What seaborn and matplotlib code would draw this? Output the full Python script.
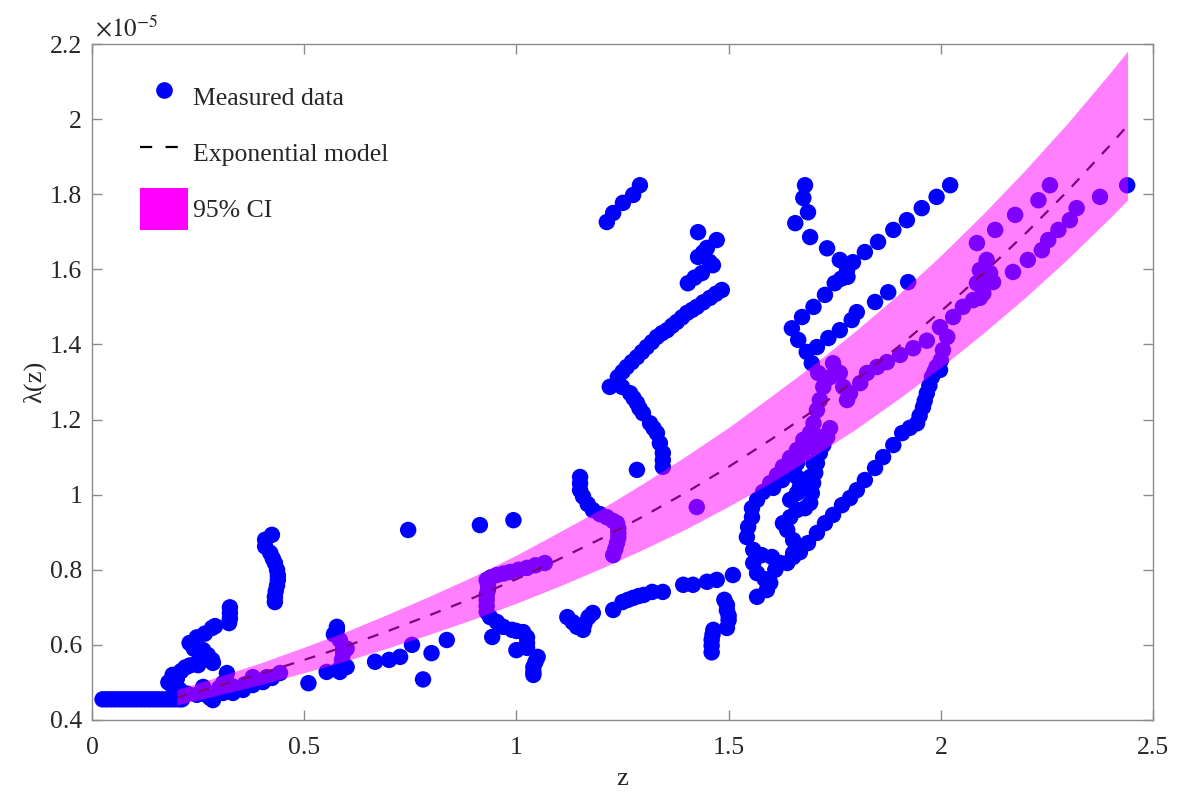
import numpy as np
import pandas as pd
import matplotlib
matplotlib.use("Agg")
import matplotlib.pyplot as plt
from matplotlib.lines import Line2D
from matplotlib.patches import Patch
from matplotlib.ticker import FuncFormatter
import seaborn as sns

# Measured lambda(z) values (units of 1e-5), grouped by trace as (z, lambda)
trace_flat = [
    (0.025, 0.455), (0.035, 0.455), (0.045, 0.455), (0.055, 0.455), (0.065, 0.455),
    (0.075, 0.455), (0.085, 0.455), (0.095, 0.455), (0.105, 0.455), (0.115, 0.455),
    (0.125, 0.455), (0.135, 0.455), (0.145, 0.455), (0.155, 0.455), (0.165, 0.455),
    (0.175, 0.455), (0.185, 0.455), (0.195, 0.455), (0.205, 0.455), (0.212, 0.455),
]
trace_low_left = [
    (0.18, 0.50), (0.19, 0.52), (0.20, 0.51), (0.21, 0.53), (0.22, 0.54), (0.23, 0.545),
    (0.245, 0.55), (0.25, 0.546), (0.19, 0.49), (0.20, 0.48), (0.207, 0.48), (0.225, 0.47),
    (0.247, 0.467), (0.262, 0.488), (0.278, 0.459), (0.285, 0.453), (0.262, 0.47),
    (0.23, 0.605), (0.247, 0.62), (0.266, 0.63), (0.283, 0.645), (0.29, 0.65),
    (0.24, 0.59), (0.262, 0.586), (0.273, 0.573), (0.283, 0.56), (0.285, 0.552),
    (0.325, 0.70), (0.325, 0.685), (0.325, 0.67), (0.323, 0.658),
    (0.309, 0.498), (0.318, 0.525), (0.309, 0.472), (0.332, 0.472), (0.356, 0.48),
    (0.379, 0.493), (0.403, 0.501), (0.424, 0.512), (0.443, 0.525), (0.379, 0.514),
    (0.412, 0.514), (0.30, 0.485), (0.33, 0.49), (0.36, 0.495),
]
trace_arc_042 = [
    (0.424, 0.893), (0.408, 0.88), (0.408, 0.862), (0.42, 0.845), (0.426, 0.83),
    (0.431, 0.818), (0.436, 0.80), (0.438, 0.785), (0.438, 0.773), (0.436, 0.758),
    (0.433, 0.743), (0.431, 0.728), (0.431, 0.714),
]
trace_mid = [
    (0.51, 0.498), (0.553, 0.528), (0.584, 0.528), (0.60, 0.541), (0.577, 0.64),
    (0.57, 0.628), (0.577, 0.648), (0.584, 0.613), (0.592, 0.594), (0.60, 0.59),
    (0.592, 0.578), (0.589, 0.56), (0.58, 0.533),
    (0.667, 0.555), (0.70, 0.56), (0.726, 0.568), (0.754, 0.60), (0.80, 0.578),
    (0.836, 0.613), (0.78, 0.508), (0.745, 0.906), (0.914, 0.919), (0.993, 0.932),
]
trace_093 = [
    (0.93, 0.773), (0.933, 0.76), (0.933, 0.746), (0.93, 0.733), (0.93, 0.72),
    (0.93, 0.704), (0.93, 0.688), (0.938, 0.674), (0.954, 0.661), (0.969, 0.648),
    (0.99, 0.64), (1.0, 0.637), (1.016, 0.634), (1.025, 0.62), (1.025, 0.605),
    (1.025, 0.592), (1.0, 0.586), (0.943, 0.621), (1.05, 0.568), (1.045, 0.555),
    (1.04, 0.541), (1.04, 0.528), (1.04, 0.52),
    (0.94, 0.78), (0.954, 0.786), (0.97, 0.79), (0.985, 0.794), (1.005, 0.80),
    (1.025, 0.805), (1.045, 0.812), (1.067, 0.818),
]
trace_low_mid = [
    (1.12, 0.674), (1.133, 0.66), (1.143, 0.648), (1.157, 0.64), (1.17, 0.674),
    (1.18, 0.685), (1.16, 0.655), (1.228, 0.693), (1.25, 0.714), (1.263, 0.72),
    (1.275, 0.725), (1.288, 0.73), (1.30, 0.733), (1.32, 0.741), (1.345, 0.741),
    (1.393, 0.76), (1.416, 0.76), (1.449, 0.768), (1.472, 0.773), (1.51, 0.786),
    (1.49, 0.72), (1.496, 0.706), (1.496, 0.692), (1.50, 0.678), (1.50, 0.666),
    (1.496, 0.645), (1.464, 0.64), (1.462, 0.627), (1.46, 0.613), (1.46, 0.598),
    (1.46, 0.58),
]
trace_115 = [
    (1.15, 1.047), (1.15, 1.03), (1.15, 1.012), (1.157, 0.995), (1.168, 0.975),
    (1.18, 0.959), (1.197, 0.948), (1.213, 0.94), (1.228, 0.93), (1.237, 0.924),
    (1.24, 0.91), (1.24, 0.898), (1.24, 0.885), (1.237, 0.871), (1.233, 0.855),
    (1.228, 0.839), (1.284, 1.066), (1.425, 0.967),
]
trace_zigzag = [
    (1.213, 1.726), (1.228, 1.75), (1.251, 1.777), (1.275, 1.798), (1.291, 1.824),
    (1.345, 1.074), (1.345, 1.092), (1.345, 1.111), (1.338, 1.137), (1.331, 1.164),
    (1.323, 1.177), (1.315, 1.19), (1.298, 1.217), (1.29, 1.23), (1.284, 1.244),
    (1.276, 1.257), (1.268, 1.27), (1.249, 1.287), (1.22, 1.287), (1.239, 1.313),
    (1.25, 1.327), (1.26, 1.34), (1.272, 1.353), (1.284, 1.366), (1.296, 1.38),
    (1.307, 1.393), (1.319, 1.406), (1.331, 1.42), (1.343, 1.43), (1.355, 1.438),
    (1.367, 1.45), (1.378, 1.46), (1.39, 1.472), (1.402, 1.484), (1.414, 1.492),
    (1.425, 1.50), (1.44, 1.512), (1.456, 1.524), (1.47, 1.535), (1.484, 1.545),
    (1.428, 1.699), (1.472, 1.678), (1.449, 1.657), (1.428, 1.633), (1.463, 1.611),
    (1.437, 1.59), (1.404, 1.563), (1.42, 1.578), (1.455, 1.62), (1.44, 1.645),
]
trace_upper_168 = [
    (1.68, 1.824), (1.676, 1.79), (1.687, 1.752), (1.657, 1.723), (1.692, 1.686),
    (1.732, 1.656), (1.762, 1.625), (1.779, 1.598), (1.793, 1.619), (1.78, 1.58),
    (1.821, 1.646), (1.852, 1.673), (1.888, 1.705), (1.92, 1.731), (1.955, 1.763),
    (1.99, 1.793), (2.022, 1.824),
    (1.765, 1.575), (1.75, 1.563), (1.727, 1.532), (1.70, 1.50), (1.673, 1.473),
    (1.649, 1.443), (1.664, 1.412), (1.684, 1.38), (1.696, 1.35), (1.711, 1.324),
    (1.708, 1.393), (1.735, 1.417), (1.762, 1.438), (1.79, 1.465), (1.802, 1.486),
    (1.845, 1.513), (1.876, 1.539), (1.923, 1.566),
]
trace_band_17 = [
    (1.746, 1.35), (1.739, 1.313), (1.723, 1.287), (1.715, 1.252), (1.708, 1.225),
    (1.70, 1.19), (1.692, 1.164), (1.685, 1.137), (1.673, 1.111), (1.661, 1.084),
    (1.64, 1.06), (1.626, 1.039), (1.605, 1.018),
    (1.762, 1.324), (1.77, 1.287), (1.779, 1.252), (1.786, 1.27), (1.81, 1.297),
    (1.826, 1.324), (1.85, 1.34), (1.873, 1.353), (1.904, 1.372), (1.935, 1.39),
    (1.967, 1.41), (1.715, 1.153), (1.708, 1.119), (1.70, 1.084), (1.692, 1.047),
]
trace_right = [
    (1.998, 1.446), (2.029, 1.473), (2.052, 1.50), (2.076, 1.518), (2.10, 1.536),
    (2.108, 1.563), (2.116, 1.59), (2.108, 1.625), (2.085, 1.67), (2.015, 1.42),
    (2.005, 1.385), (2.0, 1.358), (1.998, 1.332), (2.092, 1.598), (2.123, 1.566),
    (2.085, 1.563), (2.092, 1.524),
    (2.128, 1.705), (2.175, 1.745), (2.23, 1.784), (2.257, 1.824), (2.375, 1.793),
    (2.439, 1.824),
    (2.17, 1.593), (2.205, 1.625), (2.238, 1.651), (2.253, 1.678), (2.277, 1.705),
    (2.304, 1.731), (2.32, 1.763),
]
trace_long_diag = [
    (1.944, 1.19), (1.958, 1.233), (1.967, 1.27), (1.979, 1.313), (1.99, 1.34),
    (1.909, 1.164), (1.888, 1.132), (1.864, 1.10), (1.845, 1.071), (1.821, 1.039),
    (1.802, 1.012), (1.786, 0.991), (1.767, 0.972), (1.746, 0.946), (1.727, 0.924),
    (1.708, 0.898), (1.687, 0.871), (1.668, 0.847), (1.652, 0.834), (1.927, 1.178),
    (1.95, 1.21), (1.962, 1.25), (1.973, 1.29), (1.985, 1.327),
]
trace_loops = [
    (1.567, 0.728), (1.59, 0.746), (1.598, 0.765), (1.567, 0.791), (1.558, 0.818),
    (1.578, 0.839), (1.602, 0.834), (1.621, 0.818), (1.558, 0.853), (1.543, 0.887),
    (1.546, 0.914), (1.555, 0.94), (1.555, 0.964), (1.567, 0.986), (1.581, 1.007),
    (1.598, 1.031), (1.614, 1.052), (1.628, 1.074), (1.645, 1.098), (1.661, 1.119),
    (1.676, 1.146), (1.692, 1.164), (1.61, 0.80), (1.585, 0.775),
    (1.645, 0.986), (1.661, 1.004), (1.668, 1.02), (1.661, 1.047), (1.652, 1.066),
    (1.638, 0.906), (1.628, 0.924), (1.645, 0.94), (1.661, 0.959), (1.68, 0.964),
    (1.692, 0.978), (1.696, 1.004), (1.699, 1.031), (1.704, 1.058), (1.708, 1.084),
    (1.715, 1.111), (1.723, 1.132), (1.732, 1.153), (1.739, 1.177), (1.652, 0.879),
    (1.652, 0.844), (1.638, 0.818),
]

# Exponential model and its 95% confidence band (units of 1e-5)
model_z = [0.2, 0.3, 0.4, 0.5, 0.6, 0.7, 0.8, 0.9, 1.0, 1.1, 1.2, 1.3,
           1.4, 1.5, 1.6, 1.7, 1.8, 1.9, 2.0, 2.1, 2.2, 2.3, 2.4, 2.44]
model_lam = [0.460, 0.491, 0.524, 0.560, 0.597, 0.638, 0.681, 0.726, 0.775, 0.828,
             0.883, 0.943, 1.006, 1.074, 1.147, 1.224, 1.306, 1.394, 1.488, 1.589,
             1.696, 1.810, 1.932, 1.983]
ci_lower = [0.440, 0.467, 0.495, 0.526, 0.558, 0.593, 0.630, 0.669, 0.711, 0.756,
            0.804, 0.855, 0.909, 0.969, 1.032, 1.102, 1.175, 1.255, 1.339, 1.430,
            1.526, 1.629, 1.739, 1.785]
ci_upper = [0.481, 0.516, 0.553, 0.594, 0.636, 0.683, 0.732, 0.783, 0.839, 0.900,
            0.962, 1.031, 1.103, 1.179, 1.262, 1.346, 1.437, 1.533, 1.637, 1.748,
            1.866, 1.991, 2.125, 2.181]

x_ticks = [0, 0.5, 1, 1.5, 2, 2.5]
y_ticks = [0.4, 0.6, 0.8, 1.0, 1.2, 1.4, 1.6, 1.8, 2.0, 2.2]

traces = [trace_flat, trace_low_left, trace_arc_042, trace_mid, trace_093,
          trace_low_mid, trace_115, trace_zigzag, trace_upper_168, trace_band_17,
          trace_right, trace_long_diag, trace_loops]
measured = pd.DataFrame([p for t in traces for p in t], columns=["z", "lam"])

sns.set_style("ticks")
plt.rcParams["font.family"] = ["Liberation Serif", "DejaVu Serif"]
plt.rcParams["mathtext.fontset"] = "stix"

fig = plt.figure(figsize=(11.79, 7.96), dpi=100)
ax = fig.add_axes([0.078, 0.0955, 0.900, 0.8492])

blue = "#0000ff"
magenta = "#ff00ff"
axis_grey = "#8c8c8c"
text_col = "#262626"
fs = 18.5

sns.scatterplot(data=measured, x="z", y="lam", color=blue, s=140, linewidth=0,
                edgecolor="none", ax=ax, zorder=2, legend=False)
sns.lineplot(x=model_z, y=model_lam, color="black", linewidth=1.6, ax=ax,
             zorder=3, legend=False)
ax.lines[-1].set_dashes((5, 5))
ax.fill_between(model_z, ci_lower, ci_upper, color=magenta, alpha=0.5,
                linewidth=0, zorder=4)

ax.set_xlim(0, 2.5)
ax.set_ylim(0.4, 2.2)
ax.set_xticks(x_ticks)
ax.set_yticks(y_ticks)
fmt = FuncFormatter(lambda v, _: f"{round(v, 2):g}")
ax.xaxis.set_major_formatter(fmt)
ax.yaxis.set_major_formatter(fmt)

for side in ["left", "right", "top", "bottom"]:
    ax.spines[side].set_visible(True)
    ax.spines[side].set_color(axis_grey)
    ax.spines[side].set_linewidth(1.0)
ax.tick_params(direction="in", length=7, width=1.0, color=axis_grey,
               labelsize=fs, labelcolor=text_col, top=True, right=True)
ax.tick_params(axis="x", pad=12)
ax.tick_params(axis="y", pad=7)

ax.set_xlabel("z", fontsize=19, color=text_col, labelpad=7)
ax.set_ylabel("λ(z)", fontsize=19, color=text_col, labelpad=3)
ax.text(0.003, 1.004, r"$\times 10^{-5}$", transform=ax.transAxes,
        ha="left", va="bottom", fontsize=18, color=text_col)

handles = [
    Line2D([], [], marker="o", linestyle="none", color=blue, markersize=12,
           markeredgewidth=0),
    Line2D([], [], color="black", linewidth=1.6, dashes=(5.5, 6)),
    Patch(facecolor=magenta, edgecolor="none"),
]
labels = ["Measured data", "Exponential model", "95% CI"]
ax.legend(handles, labels, loc="upper left", bbox_to_anchor=(0.045, 0.953),
          frameon=False, fontsize=fs, handlelength=1.87, handleheight=2.14,
          handletextpad=0.2, labelspacing=0.55, borderaxespad=0, borderpad=0,
          labelcolor=text_col)

fig.savefig("out.png", dpi=100)
